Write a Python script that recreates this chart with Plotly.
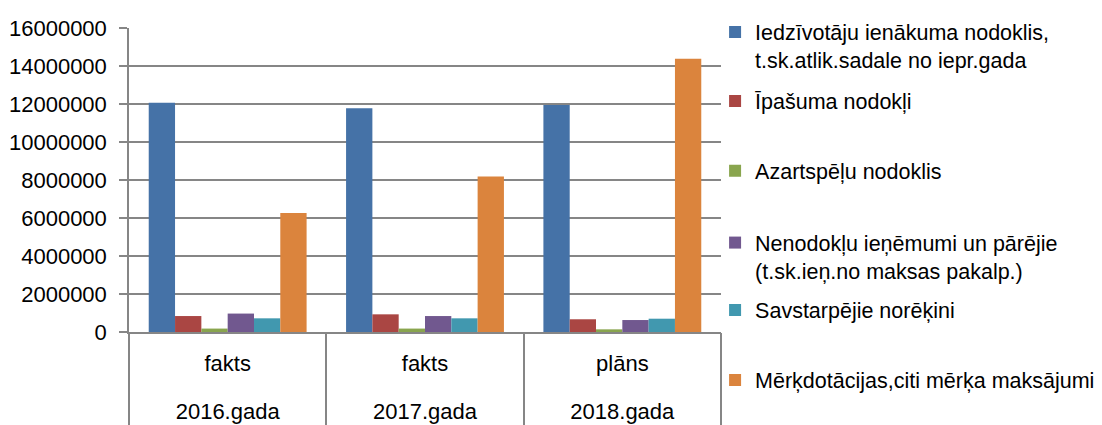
import plotly.graph_objects as go

# categories
years = ['2016.gada', '2017.gada', '2018.gada']
kinds = ['fakts', 'fakts', 'plāns']

names = [
    'Iedzīvotāju ienākuma nodoklis,<br>t.sk.atlik.sadale no iepr.gada',
    'Īpašuma nodokļi',
    'Azartspēļu nodoklis',
    'Nenodokļu ieņēmumi un pārējie<br>(t.sk.ieņ.no maksas pakalp.)',
    'Savstarpējie norēķini',
    'Mērķdotācijas,citi mērķa maksājumi',
]

iin = [12070000, 11770000, 11950000]
ipasuma = [840000, 930000, 670000]
azart = [180000, 180000, 140000]
nenodoklu = [970000, 840000, 630000]
savstarp = [720000, 720000, 700000]
merkdot = [6260000, 8180000, 14380000]

series = [iin, ipasuma, azart, nenodoklu, savstarp, merkdot]
colors = ['#4572A7', '#AA4643', '#89A54E', '#71588F', '#4198AF', '#DB843D']

# legend vertical positions (paper coords), one legend per series
leg_y = [0.941, 0.760, 0.530, 0.248, 0.072, -0.158]

FONT = 'Liberation Sans, Arial, sans-serif'
GRID = '#868686'

fig = go.Figure()
for i, (nm, vals, col) in enumerate(zip(names, series, colors)):
    fig.add_trace(go.Bar(
        x=years,
        y=vals,
        name=nm,
        marker=dict(color=col, line=dict(width=0)),
        legend='legend%d' % (i + 2),
    ))

# empty helper trace so the year axis (x2) gets drawn
fig.add_trace(go.Scatter(x=years, y=[None] * 3, xaxis='x2', mode='lines',
                         showlegend=False, hoverinfo='skip'))

# page body has an 8px margin, so the figure is 8px smaller than the window
layout = dict(
    width=1094,
    height=417,
    margin=dict(l=121, r=381, t=20, b=93, autoexpand=False),
    paper_bgcolor='white',
    plot_bgcolor='white',
    font=dict(family=FONT, size=22, color='black'),
    barmode='group',
    bargap=0.2,
    bargroupgap=0,
    # inner labels (fakts / plāns)
    xaxis=dict(
        type='category',
        range=[-0.5, 2.5],
        tickmode='array',
        tickvals=years,
        ticktext=kinds,
        showline=True,
        linecolor=GRID,
        linewidth=1.5,
        ticks='',
        ticklabelstandoff=11,
        tickfont=dict(size=22),
    ),
    # outer labels (years) with long boundary ticks as dividers
    xaxis2=dict(
        type='category',
        overlaying='x',
        side='bottom',
        anchor='y',
        range=[-0.5, 2.5],
        tickson='boundaries',
        ticks='outside',
        ticklen=100,
        tickcolor=GRID,
        tickwidth=1.5,
        showgrid=False,
        showline=False,
        ticklabelstandoff=64,
        tickfont=dict(size=22),
    ),
    yaxis=dict(
        range=[0, 16000000],
        dtick=2000000,
        tickformat='d',
        showgrid=True,
        gridcolor=GRID,
        gridwidth=1.5,
        showline=True,
        linecolor=GRID,
        linewidth=1.5,
        ticks='outside',
        ticklen=8,
        tickcolor=GRID,
        tickwidth=1.5,
        zeroline=False,
        ticklabelstandoff=8,
        tickfont=dict(size=22),
    ),
)

for i, y in enumerate(leg_y):
    layout['legend%d' % (i + 2)] = dict(
        x=0.990, xanchor='left',
        y=y, yanchor='middle',
        valign='top',
        bgcolor='rgba(0,0,0,0)',
        font=dict(family=FONT, size=21.5, color='black'),
    )

fig.update_layout(**layout)
fig.write_html('out.html')
